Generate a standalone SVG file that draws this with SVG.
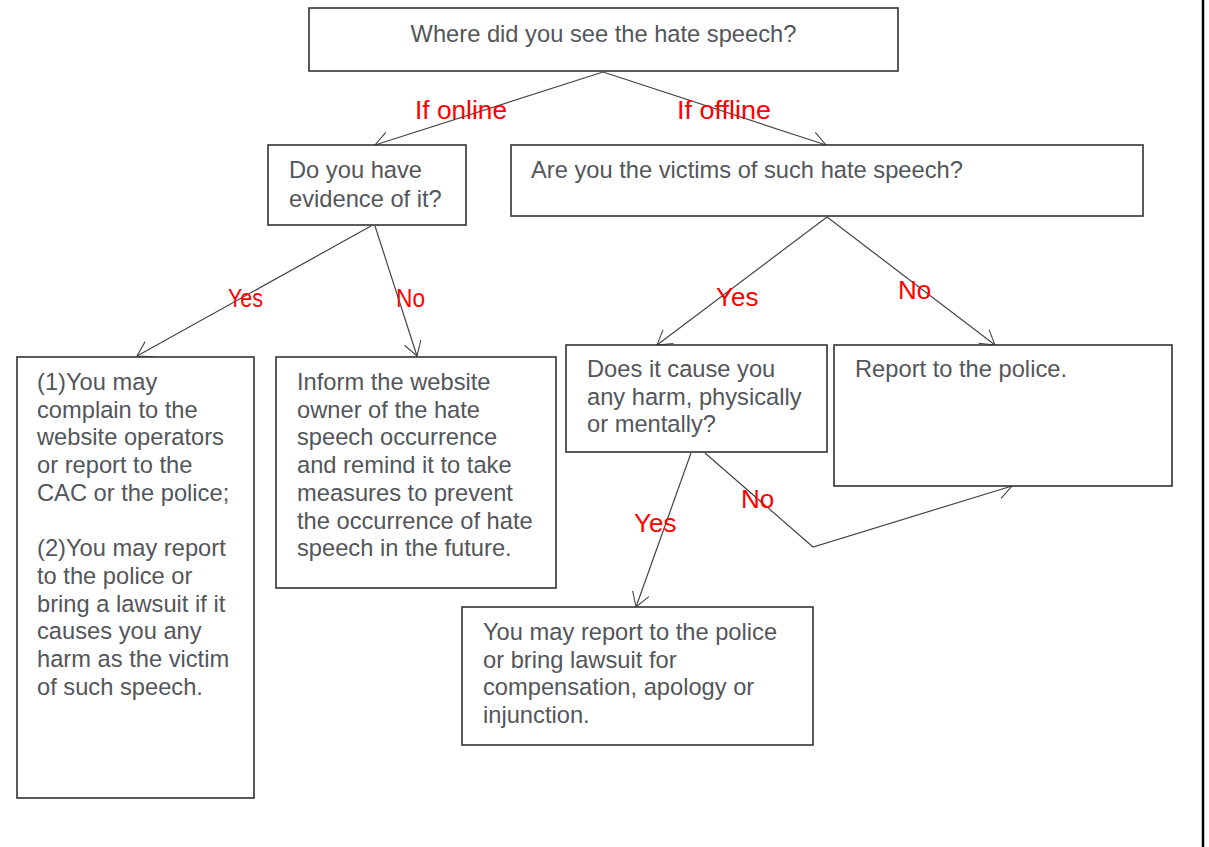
<svg xmlns="http://www.w3.org/2000/svg" width="1209" height="847" viewBox="0 0 1209 847">
<defs>
<style>
.box{fill:#fff;stroke:#333;stroke-width:1.6}
.t{font-family:"Liberation Sans",Arial,sans-serif;font-size:23.7px;fill:#53565a}
.lbl{font-family:"Liberation Sans",Arial,sans-serif;font-size:26px;fill:#ff0000}
.c{fill:none;stroke:#454545;stroke-width:1.2}
</style>
<marker id="arr" markerUnits="userSpaceOnUse" markerWidth="20" markerHeight="20" refX="0" refY="0" viewBox="-18 -11 20 22" orient="auto" overflow="visible">
<path d="M-15.5,-9.5 L0,0 L-15.5,9.5" fill="none" stroke="#454545" stroke-width="1.2"/>
</marker>
</defs>
<rect width="1209" height="847" fill="#fff"/>
<line x1="1203" y1="0" x2="1203" y2="847" stroke="#000" stroke-width="2.5"/>

<g id="connectors">
<line class="c" x1="603" y1="72" x2="375" y2="145" marker-end="url(#arr)"/>
<line class="c" x1="603" y1="72" x2="826" y2="145" marker-end="url(#arr)"/>
<line class="c" x1="371" y1="226" x2="137" y2="356" marker-end="url(#arr)"/>
<line class="c" x1="375" y1="226" x2="417" y2="356" marker-end="url(#arr)"/>
<line class="c" x1="827" y1="217" x2="657" y2="345" marker-end="url(#arr)"/>
<line class="c" x1="827" y1="217" x2="995" y2="345" marker-end="url(#arr)"/>
<line class="c" x1="691" y1="453" x2="636" y2="607" marker-end="url(#arr)"/>
<polyline class="c" points="705,453 813,547 1012,486" marker-end="url(#arr)"/>
</g>

<g id="labels">
<text class="lbl" x="415" y="119" textLength="92" lengthAdjust="spacingAndGlyphs">If online</text>
<text class="lbl" x="677" y="119" textLength="94" lengthAdjust="spacingAndGlyphs">If offline</text>
<text class="lbl" x="228" y="307" textLength="35" lengthAdjust="spacingAndGlyphs">Yes</text>
<text class="lbl" x="396" y="307" textLength="29" lengthAdjust="spacingAndGlyphs">No</text>
<text class="lbl" x="716" y="306">Yes</text>
<text class="lbl" x="898" y="299">No</text>
<text class="lbl" x="634" y="532">Yes</text>
<text class="lbl" x="741" y="508">No</text>
</g>

<g id="n-where">
<rect class="box" x="309" y="8" width="589" height="63"/>
<text class="t" x="603.5" y="42" text-anchor="middle">Where did you see the hate speech?</text>
</g>

<g id="n-evidence">
<rect class="box" x="268" y="145" width="198" height="80"/>
<text class="t"><tspan x="289" y="178">Do you have</tspan><tspan x="289" y="206.5">evidence of it?</tspan></text>
</g>

<g id="n-victim">
<rect class="box" x="511" y="145" width="632" height="71"/>
<text class="t" x="531" y="178">Are you the victims of such hate speech?</text>
</g>

<g id="n-online-yes">
<rect class="box" x="17" y="357" width="237" height="441"/>
<text class="t">
<tspan x="37" y="390">(1)You may</tspan>
<tspan x="37" y="417.7">complain to the</tspan>
<tspan x="37" y="445.4">website operators</tspan>
<tspan x="37" y="473.1">or report to the</tspan>
<tspan x="37" y="500.8">CAC or the police;</tspan>
<tspan x="37" y="556.2">(2)You may report</tspan>
<tspan x="37" y="583.9">to the police or</tspan>
<tspan x="37" y="611.6">bring a lawsuit if it</tspan>
<tspan x="37" y="639.3">causes you any</tspan>
<tspan x="37" y="667">harm as the victim</tspan>
<tspan x="37" y="694.7">of such speech.</tspan>
</text>
</g>

<g id="n-online-no">
<rect class="box" x="276" y="357" width="280" height="231"/>
<text class="t">
<tspan x="297" y="390">Inform the website</tspan>
<tspan x="297" y="417.7">owner of the hate</tspan>
<tspan x="297" y="445.4">speech occurrence</tspan>
<tspan x="297" y="473.1">and remind it to take</tspan>
<tspan x="297" y="500.8">measures to prevent</tspan>
<tspan x="297" y="528.5">the occurrence of hate</tspan>
<tspan x="297" y="556.2">speech in the future.</tspan>
</text>
</g>

<g id="n-harm">
<rect class="box" x="566" y="345" width="261" height="107"/>
<text class="t">
<tspan x="587" y="377">Does it cause you</tspan>
<tspan x="587" y="404.7">any harm, physically</tspan>
<tspan x="587" y="432.4">or mentally?</tspan>
</text>
</g>

<g id="n-police">
<rect class="box" x="834" y="345" width="338" height="141"/>
<text class="t" x="855" y="377">Report to the police.</text>
</g>

<g id="n-lawsuit">
<rect class="box" x="462" y="607" width="351" height="138"/>
<text class="t">
<tspan x="483" y="640">You may report to the police</tspan>
<tspan x="483" y="667.7">or bring lawsuit for</tspan>
<tspan x="483" y="695.4">compensation, apology or</tspan>
<tspan x="483" y="723.1">injunction.</tspan>
</text>
</g>
</svg>
